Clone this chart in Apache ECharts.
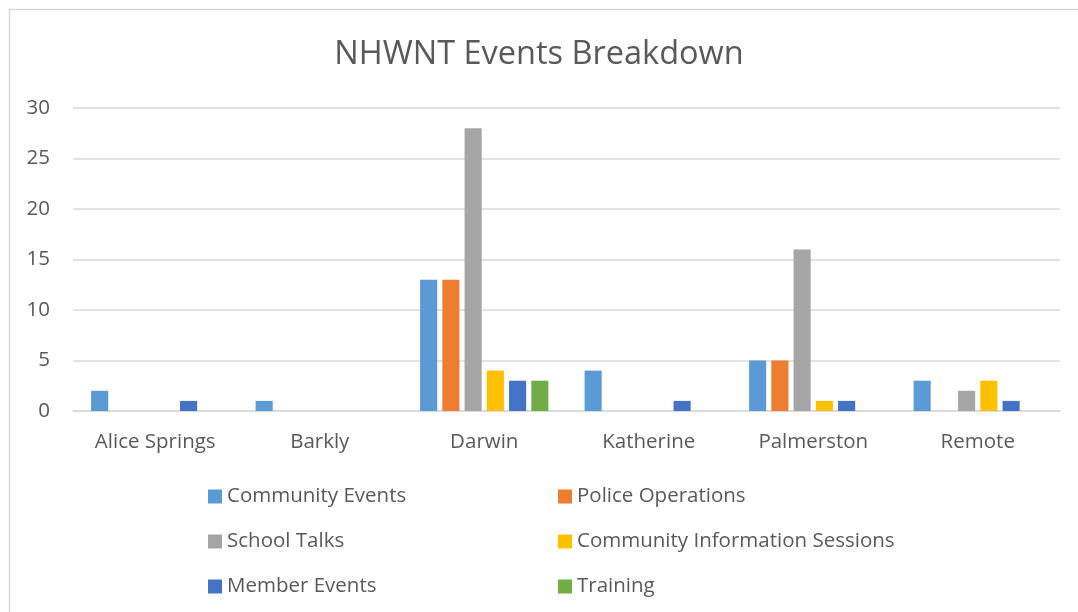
<!DOCTYPE html>
<html>
<head>
<meta charset="utf-8">
<script src="https://cdn.jsdelivr.net/npm/echarts@6/dist/echarts.min.js"></script>
<style>
    html, body { margin: 0; padding: 0; background: #fff; }
    #main { width: 1078px; height: 612px; }
</style>
</head>
<body>
<div id="main"></div>
<script>
var regions = ['Alice Springs', 'Barkly', 'Darwin', 'Katherine', 'Palmerston', 'Remote'];
var communityEvents = [2, 1, 13, 4, 5, 3];
var policeOperations = [0, 0, 13, 0, 5, 0];
var schoolTalks = [0, 0, 28, 0, 16, 2];
var infoSessions = [0, 0, 4, 0, 1, 3];
var memberEvents = [1, 0, 3, 1, 1, 1];
var training = [0, 0, 3, 0, 0, 0];
var yTicks = [0, 5, 10, 15, 20, 25, 30];

var textColor = '#595959';
var fontName = 'Open Sans';

function barSeries(name, data, color) {
    return {
        name: name,
        type: 'bar',
        data: data,
        barGap: '30%',
        barCategoryGap: '22%',
        itemStyle: { color: color }
    };
}

var myChart = echarts.init(document.getElementById('main'));

// 图表配置
var option = {
    animation: false,
    textStyle: { fontFamily: fontName },
    graphic: [{
        type: 'rect',
        shape: { x: 9.5, y: 9.5, width: 1080, height: 620 },
        style: { fill: 'none', stroke: '#d9d9d9', lineWidth: 1.5 },
        silent: true
    }],
    title: {
        text: 'NHWNT Events Breakdown',
        left: 'center',
        top: 33,
        textStyle: { fontFamily: fontName, fontSize: 32.5, fontWeight: 'normal', color: textColor }
    },
    legend: [{
        orient: 'vertical',
        left: 203,
        top: 481,
        itemWidth: 14,
        itemHeight: 14,
        itemGap: 24,
        icon: 'rect',
        textStyle: { fontFamily: fontName, fontSize: 20.5, color: textColor },
        data: ['Community Events', 'School Talks', 'Member Events']
    }, {
        orient: 'vertical',
        left: 553,
        top: 481,
        itemWidth: 14,
        itemHeight: 14,
        itemGap: 24,
        icon: 'rect',
        textStyle: { fontFamily: fontName, fontSize: 20.5, color: textColor },
        data: ['Police Operations', 'Community Information Sessions', 'Training']
    }],
    grid: { left: 73, right: 18, top: 108, bottom: 201, containLabel: false },
    xAxis: {
        type: 'category',
        data: regions,
        axisTick: { show: false },
        axisLine: { lineStyle: { color: '#d9d9d9', width: 1.5 } },
        axisLabel: { fontFamily: fontName, fontSize: 20.5, color: textColor, margin: 21 }
    },
    yAxis: {
        type: 'value',
        min: yTicks[0],
        max: yTicks[yTicks.length - 1],
        interval: 5,
        axisLine: { show: false },
        axisTick: { show: false },
        splitLine: { lineStyle: { color: '#d9d9d9', width: 1.5 } },
        axisLabel: { fontFamily: fontName, fontSize: 20.5, color: textColor, margin: 23 }
    },
    series: [
        barSeries('Community Events', communityEvents, '#5b9bd5'),
        barSeries('Police Operations', policeOperations, '#ed7d31'),
        barSeries('School Talks', schoolTalks, '#a5a5a5'),
        barSeries('Community Information Sessions', infoSessions, '#ffc000'),
        barSeries('Member Events', memberEvents, '#4472c4'),
        barSeries('Training', training, '#70ad47')
    ]
};

myChart.setOption(option);
</script>
</body>
</html>
